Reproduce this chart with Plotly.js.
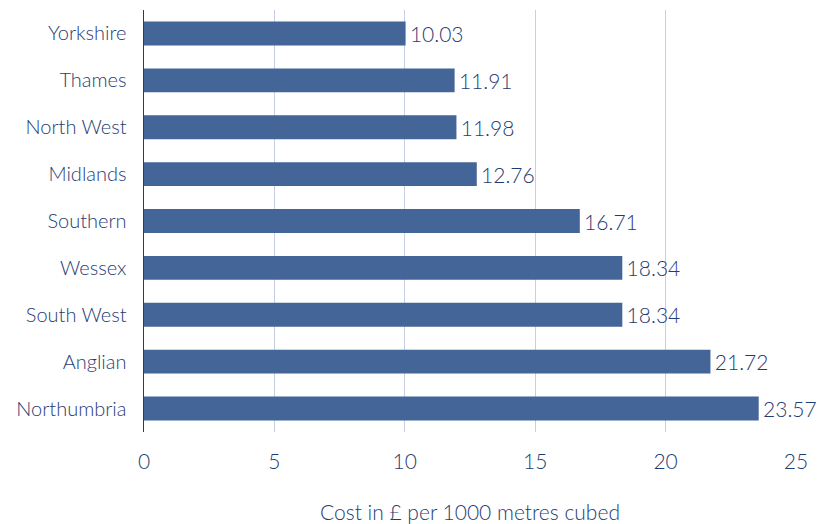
<!DOCTYPE html>
<html>
<head>
<meta charset="utf-8">
<script src="https://cdn.plot.ly/plotly-3.0.1.min.js"></script>
<style>
  html, body { margin: 0; padding: 0; background: #fff; }
  #chart { width: 818px; height: 524px; }
</style>
</head>
<body>
<div id="chart"></div>
<script>
// Water companies, listed top to bottom
const regions = ["Yorkshire", "Thames", "North West", "Midlands", "Southern",
                 "Wessex", "South West", "Anglian", "Northumbria"];
// Cost in £ per 1000 cubic metres
const costs = [10.03, 11.91, 11.98, 12.76, 16.71, 18.34, 18.34, 21.72, 23.57];
const xTicks = [0, 5, 10, 15, 20, 25];

const navy = "#1f3c74";
const fontFamily = "Lato, 'Open Sans', sans-serif";

const trace = {
  type: "bar",
  orientation: "h",
  y: regions,
  x: costs,
  marker: { color: "#436597" },
  // hair space keeps the value a touch clear of the bar end
  text: costs.map(v => "\u200A" + v.toFixed(2)),
  textposition: "outside",
  textfont: { family: fontFamily, size: 21, color: navy, weight: 300 },
  constraintext: "none",
  cliponaxis: false,
  hoverinfo: "none"
};

const layout = {
  width: 818,
  height: 524,
  margin: { l: 144, r: 22, t: 10, b: 92 },
  paper_bgcolor: "#ffffff",
  plot_bgcolor: "#ffffff",
  showlegend: false,
  bargap: 0.49,
  font: { family: fontFamily, size: 20, color: navy, weight: 300 },
  xaxis: {
    range: [0, 25],
    tickvals: xTicks,
    ticktext: xTicks.map(String),
    showgrid: true,
    gridcolor: "#c6d0e2",
    gridwidth: 1,
    zeroline: false,
    showline: false,
    ticks: "outside",
    ticklen: 11,
    tickcolor: "rgba(0,0,0,0)",
    tickfont: { family: fontFamily, size: 21, color: navy, weight: 300 },
    title: {
      text: "Cost in £ per 1000 metres cubed",
      font: { family: fontFamily, size: 21, color: navy, weight: 300 },
      standoff: 33
    },
    fixedrange: true
  },
  yaxis: {
    autorange: "reversed",
    showgrid: false,
    zeroline: false,
    showline: true,
    linecolor: navy,
    linewidth: 1.5,
    ticks: "",
    ticklabelstandoff: 12,
    tickfont: { family: fontFamily, size: 20, color: navy, weight: 300 },
    fixedrange: true
  }
};

Plotly.newPlot("chart", [trace], layout, { displayModeBar: false, staticPlot: true });
</script>
</body>
</html>
